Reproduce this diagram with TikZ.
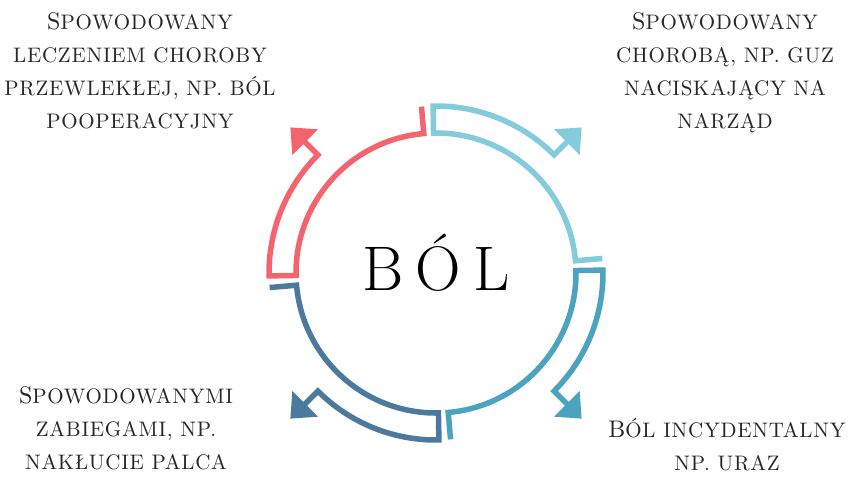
\documentclass[tikz,border=0pt]{standalone}
\usepackage{fontspec}
\usepackage{tikz}
\usetikzlibrary{arrows.meta}
\definecolor{coral}{HTML}{F4646E}
\definecolor{skyteal}{HTML}{84CBDC}
\definecolor{seateal}{HTML}{4BA3BE}
\definecolor{steel}{HTML}{4C7A9E}
\newfontfamily\causefont[LetterSpace=3.5]{lmroman10-regular.otf}
\newcommand\firstcap[1]{{\fontsize{24}{33}\selectfont #1}}

\begin{document}
\begin{tikzpicture}[x=1pt,y=1pt,
  ring/.style={line width=5.5pt,-{Triangle[length=21pt,width=35pt]}},
  cause/.style={align=center,anchor=north,inner sep=0pt,text=black!85,
    font=\causefont\fontsize{21}{33}\selectfont}]
\useasboundingbox (-436,-204) rectangle (418,273);
\foreach \g/\c in {93/skyteal,3/seateal,-87/steel,-177/coral}
  \draw[ring,\c] ({\g-88}:167pt) -- ({\g-88}:140pt)
    arc[start angle=\g-88, end angle=\g-2, radius=140pt] -- ({\g-2}:167pt)
    arc[start angle=\g-2, end angle=\g-48, radius=167pt] -- ({\g-48}:206pt);
\node[cause] (chronic) at (-296,261) {\firstcap{S}POWODOWANY\\LECZENIEM CHOROBY\\PRZEWLEKŁEJ, NP. BÓL\\POOPERACYJNY};
\node[cause] (disease) at (289,261) {\firstcap{S}POWODOWANY\\CHOROBĄ, NP. GUZ\\NACISKAJĄCY NA\\NARZĄD};
\node[cause] (procedure) at (-310,-113) {\firstcap{S}POWODOWANYMI\\ZABIEGAMI, NP.\\NAKŁUCIE PALCA};
\node[cause] (incident) at (291,-145) {\firstcap{B}ÓL INCYDENTALNY\\NP. URAZ};
\node[anchor=base,inner sep=0pt,font=\fontsize{63}{63}\selectfont] (pain) at (0,-17) {B\hspace{12pt}Ó\hspace{12pt}L};
\end{tikzpicture}
\end{document}
